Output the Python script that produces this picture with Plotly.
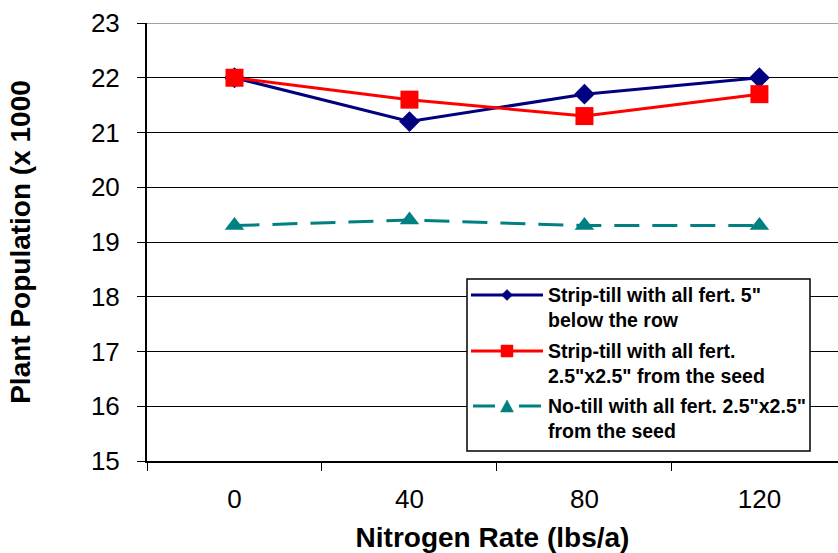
import plotly.graph_objects as go

nitrogen_rates = ["0", "40", "80", "120"]
strip_till_5in = [22.0, 21.2, 21.7, 22.0]
strip_till_25 = [22.0, 21.6, 21.3, 21.7]
no_till_25 = [19.3, 19.4, 19.3, 19.3]

names = [
    'Strip-till with all fert. 5"<br>below the row',
    'Strip-till with all fert.<br>2.5"x2.5" from the seed',
    'No-till with all fert. 2.5"x2.5"<br>from the seed',
]
colors = ["#000080", "#FF0000", "#008080"]
symbols = ["diamond", "square", "triangle-up"]
dashes = ["solid", "solid", "25px,13px"]
series = [strip_till_5in, strip_till_25, no_till_25]

FONT = "Liberation Sans, Arial, sans-serif"
W, H = 838, 553
ML, MR, MT, MB = 147, 0, 23, 92
PW, PH = W - ML - MR, H - MT - MB


def px(x):
    return (x - ML) / PW


def py(y):
    return (H - MB - y) / PH


fig = go.Figure()
for name, vals, col, sym, dash, size in zip(names, series, colors, symbols, dashes, [16, 18, 17]):
    fig.add_trace(go.Scatter(
        x=nitrogen_rates, y=vals, name=name, mode="lines+markers",
        line=dict(color=col, width=3, dash=dash),
        marker=dict(symbol=sym, size=size, color=col),
        showlegend=False,
    ))

# ---- legend drawn as a framed box with sample lines/markers and text ----
shapes = [
    dict(type="line", xref="x domain", yref="y", x0=0, x1=1, y0=23, y1=23,
         line=dict(color="#808080", width=1.5), layer="above"),
    dict(type="rect", xref="paper", yref="paper", x0=px(467), x1=px(810), y0=py(451), y1=py(279),
         line=dict(color="black", width=1.5), fillcolor="white", layer="above"),
]
annotations = []
row_y = [295, 351, 406]
for i, (name, col, dash) in enumerate(zip(names, colors, dashes)):
    yy = row_y[i]
    if dash == "solid":
        shapes.append(dict(type="line", xref="paper", yref="paper", x0=px(471), x1=px(543),
                           y0=py(yy), y1=py(yy), line=dict(color=col, width=3), layer="above"))
    else:
        for a, b in [(473, 495), (519, 541)]:
            shapes.append(dict(type="line", xref="paper", yref="paper", x0=px(a), x1=px(b),
                               y0=py(yy), y1=py(yy), line=dict(color=col, width=3), layer="above"))
    cx = 507
    if symbols[i] == "diamond":
        path = f"M {px(cx-5.5)},{py(yy)} L {px(cx)},{py(yy-5.5)} L {px(cx+5.5)},{py(yy)} L {px(cx)},{py(yy+5.5)} Z"
    elif symbols[i] == "square":
        path = f"M {px(cx-6)},{py(yy-6)} L {px(cx+6)},{py(yy-6)} L {px(cx+6)},{py(yy+6)} L {px(cx-6)},{py(yy+6)} Z"
    else:
        path = f"M {px(cx-6.5)},{py(yy+6)} L {px(cx+6.5)},{py(yy+6)} L {px(cx)},{py(yy-6)} Z"
    shapes.append(dict(type="path", xref="paper", yref="paper", path=path,
                       fillcolor=col, line=dict(color=col, width=0.5), layer="above"))
    annotations.append(dict(
        xref="paper", yref="paper", x=px(546), y=py(yy + 12.5), xanchor="left", yanchor="middle",
        text=name, showarrow=False, align="left",
        font=dict(family=FONT, size=19.5, color="black", weight="bold"),
    ))

fig.update_layout(
    width=W, height=H,
    margin=dict(l=ML, r=MR, t=MT, b=MB, autoexpand=False),
    paper_bgcolor="white", plot_bgcolor="white",
    font=dict(family=FONT, color="black"),
    showlegend=False,
    xaxis=dict(
        type="category", range=[-0.5, 3.449], automargin=False,
        tickson="boundaries", ticks="outside", ticklen=8, tickwidth=1, tickcolor="black",
        showgrid=False, showline=True, linecolor="black", linewidth=2,
        tickfont=dict(family=FONT, size=26, color="black"),
        ticklabelstandoff=14,
        title=dict(text="Nitrogen Rate (lbs/a)", font=dict(family=FONT, size=28, color="black", weight="bold"), standoff=14),
        zeroline=False,
    ),
    yaxis=dict(
        range=[15, 23], tickvals=[15, 16, 17, 18, 19, 20, 21, 22, 23], automargin=False,
        ticks="outside", ticklen=8, tickwidth=1, tickcolor="black",
        showgrid=True, gridcolor="black", gridwidth=1,
        showline=True, linecolor="black", linewidth=2,
        tickfont=dict(family=FONT, size=26, color="black"),
        ticklabelstandoff=12,
        title=dict(text="Plant Population (x 1000", font=dict(family=FONT, size=28, color="black", weight="bold"), standoff=52),
        zeroline=False,
    ),
    shapes=shapes,
    annotations=annotations,
)

fig.write_html(
    "out.html",
    config={"displayModeBar": False},
    post_script="document.body.style.margin='0';document.body.style.overflow='hidden';",
)
